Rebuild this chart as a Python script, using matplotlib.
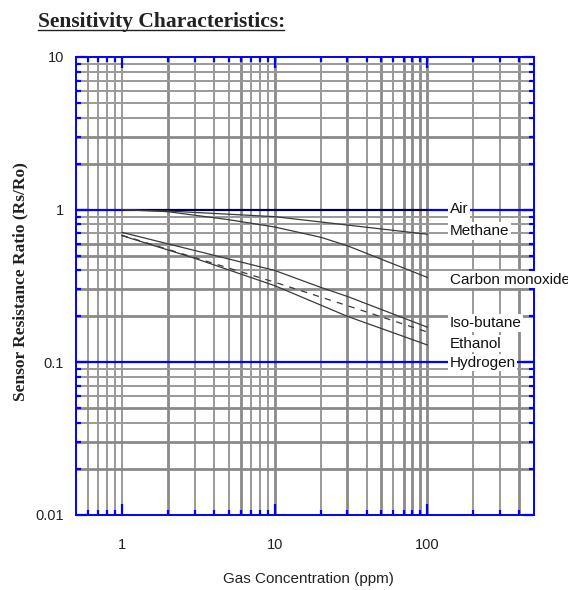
import matplotlib
matplotlib.use("Agg")
import matplotlib.pyplot as plt
from matplotlib.lines import Line2D
from matplotlib.ticker import FixedLocator, NullFormatter, FixedFormatter

# ---------------- data ----------------
air_x = [1, 100]
air_y = [1.0, 1.0]

methane_x = [1, 2, 10, 100]
methane_y = [1.0, 0.98, 0.90, 0.69]

co_x = [1, 2, 5, 10, 20, 30, 100]
co_y = [1.0, 0.97, 0.86, 0.77, 0.66, 0.58, 0.36]

isobutane_x = [1, 3, 10, 20, 30, 100]
isobutane_y = [0.71, 0.54, 0.40, 0.31, 0.27, 0.17]

ethanol_x = [1, 10, 30, 100]
ethanol_y = [0.68, 0.335, 0.235, 0.158]

hydrogen_x = [1, 3, 10, 30, 100]
hydrogen_y = [0.676, 0.48, 0.318, 0.20, 0.13]

labels = ["Air", "Methane", "Carbon monoxide", "Iso-butane", "Ethanol", "Hydrogen"]
label_y = [0.946, 0.683, 0.328, 0.170, 0.125, 0.0937]
label_x = 140

x_major = [1, 10, 100]
x_major_labels = ["1", "10", "100"]
x_minor = [0.6, 0.7, 0.8, 0.9, 2, 3, 4, 5, 6, 7, 8, 9,
           20, 30, 40, 50, 60, 70, 80, 90, 200, 300, 400]
x_thick = [2, 6, 10, 30, 50, 70, 80, 90, 100, 400]

y_major = [0.01, 0.1, 1, 10]
y_major_labels = ["0.01", "0.1", "1", "10"]
y_minor = [0.02, 0.03, 0.04, 0.05, 0.06, 0.07, 0.08, 0.09,
           0.2, 0.3, 0.4, 0.5, 0.6, 0.7, 0.8, 0.9,
           2, 3, 4, 5, 6, 7, 8, 9]
y_thick = [0.02, 0.03, 0.05, 0.2, 0.3, 0.5, 0.6, 2, 3]

# ---------------- figure ----------------
W, H = 568, 590
fig = plt.figure(figsize=(W / 100, H / 100), dpi=100)
L, R, T, B = 76, 534, 57, 515
ax = fig.add_axes([L / W, 1 - B / H, (R - L) / W, (B - T) / H])
ax.set_xscale("log")
ax.set_yscale("log")
ax.set_xlim(0.5, 500)
ax.set_ylim(0.01, 10)

blue = "#0000ff"
grid_c = "#999999"

# gridlines
for xv in x_minor + x_major:
    ax.axvline(xv, color="#8a8a8a" if xv in x_thick else grid_c,
               lw=2.0 if xv in x_thick else 1.4, zorder=1)
for yv in y_minor:
    ax.axhline(yv, color="#8a8a8a" if yv in y_thick else grid_c,
               lw=2.0 if yv in y_thick else 1.4, zorder=1)
for yv in [0.1, 1]:
    ax.axhline(yv, color=blue, lw=1.6, zorder=1.5)

# curves
curve_c = "#3a3a3a"
ax.plot(air_x, air_y, color="black", lw=1.1, zorder=3)
ax.plot(methane_x, methane_y, color=curve_c, lw=0.9, zorder=3)
ax.plot(co_x, co_y, color=curve_c, lw=0.9, zorder=3)
ax.plot(isobutane_x, isobutane_y, color=curve_c, lw=0.9, zorder=3)
ax.plot(ethanol_x, ethanol_y, color=curve_c, lw=0.9, ls=(0, (5, 5)), zorder=3)
ax.plot(hydrogen_x, hydrogen_y, color=curve_c, lw=0.9, zorder=3)

# labels
for txt, yv in zip(labels, label_y):
    ax.text(label_x, yv, txt, ha="left", va="baseline", fontsize=11,
            family="Liberation Sans", color="#111111", zorder=6, clip_on=False,
            bbox=dict(facecolor="white", edgecolor="none", pad=1.2))

# spines
for s in ax.spines.values():
    s.set_color(blue)
    s.set_linewidth(1.4)
    s.set_zorder(5)

# ticks
ax.xaxis.set_major_locator(FixedLocator(x_major))
ax.xaxis.set_major_formatter(FixedFormatter(x_major_labels))
ax.xaxis.set_minor_locator(FixedLocator(x_minor))
ax.xaxis.set_minor_formatter(NullFormatter())
ax.yaxis.set_major_locator(FixedLocator(y_major))
ax.yaxis.set_major_formatter(FixedFormatter(y_major_labels))
ax.yaxis.set_minor_locator(FixedLocator(y_minor))
ax.yaxis.set_minor_formatter(NullFormatter())

ax.tick_params(axis="both", which="both", direction="in", colors=blue,
               top=True, right=True, labelcolor="#222222")
ax.tick_params(axis="both", which="major", length=8, width=1.6)
ax.tick_params(axis="both", which="minor", length=3.5, width=1.6)
ax.tick_params(axis="x", which="major", pad=16.5)
ax.tick_params(axis="y", which="major", pad=8.5)
for lab in ax.get_xticklabels() + ax.get_yticklabels():
    lab.set_family("Liberation Sans")
    lab.set_fontsize(10.5)

# axis titles
fig.text(308 / W, 1 - 579 / H, "Gas Concentration (ppm)", ha="center", va="center",
         fontsize=11, family="Liberation Sans", color="#222222")
fig.text(20 / W, 1 - 281.5 / H, "Sensor Resistance Ratio (Rs/Ro)", ha="center",
         va="center", rotation=90, fontsize=12.5, family="Liberation Serif",
         fontweight="bold", color="#222222")

# title with underline
fig.text(38 / W, 1 - 26.5 / H, "Sensitivity Characteristics:", ha="left",
         va="baseline", fontsize=15.5, family="Liberation Serif",
         fontweight="bold", color="#222222")
fig.add_artist(Line2D([38 / W, 284 / W], [1 - 29.5 / H, 1 - 29.5 / H],
                      transform=fig.transFigure, color="#222222", lw=1.0))

fig.savefig("out.png", dpi=100)
